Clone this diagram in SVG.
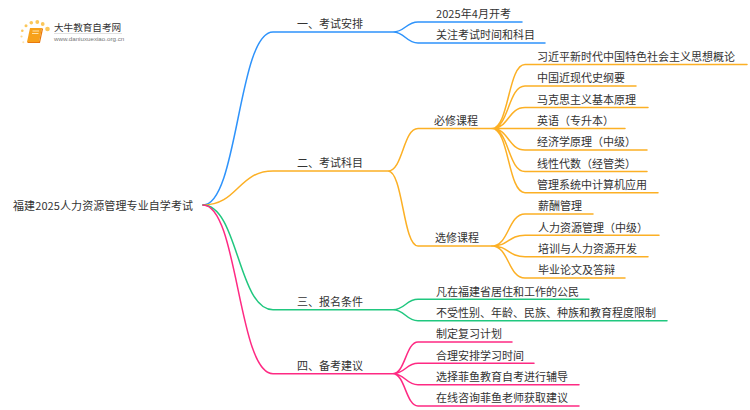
<svg xmlns="http://www.w3.org/2000/svg" width="750" height="410" viewBox="0 0 750 410">
<style>
text{font-family:"Noto Sans CJK SC","Microsoft YaHei",sans-serif;font-size:11px;fill:#333}
.c{fill:none;stroke-width:1.500;stroke-linecap:round}
.b{stroke:#2e93fb}.o{stroke:#fcb025}.g{stroke:#20c77f}.p{stroke:#fe2a83}
</style>
<rect width="750" height="410" fill="#fff"/>
<g id="logo">
<g fill="#fbc75a"><circle cx="47.500" cy="29" r="2.300"/><circle cx="42.700" cy="24" r="1.900"/><circle cx="37.300" cy="22" r="1.900"/><circle cx="31.300" cy="22.700" r="1.800"/><circle cx="26" cy="25.700" r="1.500"/><circle cx="22.300" cy="30.700" r="1.300"/><circle cx="21.500" cy="36.500" r="1.100" opacity=".7"/><circle cx="23.300" cy="42.300" r="1" opacity=".5"/></g>
<path d="M30 28h12l-3 14h-12z" fill="#f7a11a"/><path d="M27.500 42.500h12l3-14" fill="none" stroke="#e9780c" stroke-width="1.200"/>
<path d="M32.500 31h6.500M32 33.500h6.500" stroke="#ffe3a8" stroke-width="1"/>
<text x="54" y="31" style="font-size:9.600px">大牛教育自考网</text>
<path d="M54 33.500h68" stroke="#ccc" stroke-width=".6"/>
<text x="54" y="41" style="font-size:6.200px;fill:#777;font-family:'Liberation Sans',sans-serif">www.daniuxuexiao.org.cn</text>
</g>
<g id="connectors">
<path class="c b" d="M203 205C238 205 238 32 273 32H393M393 32C405 32 406 22 418 22H522M393 32C405 32 406 43 418 43H545"/>
<path class="c o" d="M203 205C238 205 238 171 273 171H388M388 171C403 171 403 128.500 418 128.500H492M388 171C403 171 403 246 418 246H492"/>
<path class="c o" d="M492 128.500C509 128.500 508 64.500 525 64.500H747M492 128.500C509 128.500 508 86 525 86H636M492 128.500C509 128.500 508 107.500 525 107.500H648M492 128.500H625M492 128.500C509 128.500 508 150 525 150H647M492 128.500C509 128.500 508 171.500 525 171.500H647M492 128.500C509 128.500 508 192.700 525 192.700H658"/>
<path class="c o" d="M492 246C509 246 508 214 525 214H593M492 246C509 246 508 235.300 525 235.300H659M492 246C509 246 508 256.700 525 256.700H648M492 246C509 246 508 278 525 278H625"/>
<path class="c g" d="M203 205C238 205 238 309.700 273 309.700H393M393 309.700C405 309.700 406 299.300 418 299.300H589M393 309.700C405 309.700 406 320.700 418 320.700H667"/>
<path class="c p" d="M203 205C238 205 238 373.700 273 373.700H393M393 373.700C405 373.700 406 342 418 342H512M393 373.700C405 373.700 406 363.300 418 363.300H534M393 373.700C405 373.700 406 384.700 418 384.700H579M393 373.700C405 373.700 406 406 418 406H579"/>
</g>
<g id="root"><text x="13" y="210" textLength="180">福建2025人力资源管理专业自学考试</text></g>
<g id="n1"><text x="297" y="28">一、考试安排</text></g>
<g id="n1a"><text x="436" y="18" textLength="75">2025年4月开考</text></g>
<g id="n1b"><text x="436" y="39">关注考试时间和科目</text></g>
<g id="n2"><text x="297" y="167">二、考试科目</text></g>
<g id="n21"><text x="434" y="125">必修课程</text></g>
<g id="n211"><text x="537" y="61">习近平新时代中国特色社会主义思想概论</text></g>
<g id="n212"><text x="537" y="82">中国近现代史纲要</text></g>
<g id="n213"><text x="537" y="104">马克思主义基本原理</text></g>
<g id="n214"><text x="537" y="125">英语（专升本）</text></g>
<g id="n215"><text x="537" y="146">经济学原理（中级）</text></g>
<g id="n216"><text x="537" y="168">线性代数（经管类）</text></g>
<g id="n217"><text x="537" y="189">管理系统中计算机应用</text></g>
<g id="n22"><text x="435" y="242">选修课程</text></g>
<g id="n221"><text x="538" y="210">薪酬管理</text></g>
<g id="n222"><text x="538" y="232">人力资源管理（中级）</text></g>
<g id="n223"><text x="538" y="253">培训与人力资源开发</text></g>
<g id="n224"><text x="538" y="274">毕业论文及答辩</text></g>
<g id="n3"><text x="297" y="306">三、报名条件</text></g>
<g id="n3a"><text x="436" y="296">凡在福建省居住和工作的公民</text></g>
<g id="n3b"><text x="436" y="317">不受性别、年龄、民族、种族和教育程度限制</text></g>
<g id="n4"><text x="297" y="370">四、备考建议</text></g>
<g id="n4a"><text x="436" y="338">制定复习计划</text></g>
<g id="n4b"><text x="436" y="360">合理安排学习时间</text></g>
<g id="n4c"><text x="436" y="381">选择菲鱼教育自考进行辅导</text></g>
<g id="n4d"><text x="436" y="402">在线咨询菲鱼老师获取建议</text></g>
</svg>
